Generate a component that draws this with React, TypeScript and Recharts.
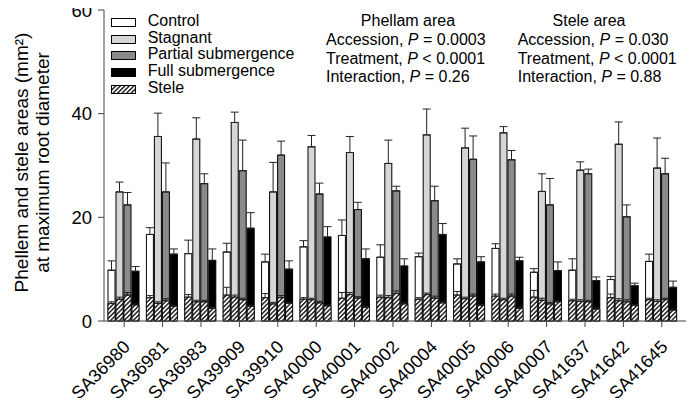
import React from "react"
import { Bar, BarChart, ErrorBar, XAxis, YAxis } from "recharts"

const accessions = [
  "SA36980", "SA36981", "SA36983", "SA39909", "SA39910", "SA40000", "SA40001", "SA40002",
  "SA40004", "SA40005", "SA40006", "SA40007", "SA41637", "SA41642", "SA41645",
]

// phellem areas (mm2) and SE
const control = [9.8, 16.7, 13.0, 13.3, 11.4, 14.3, 16.5, 12.3, 12.4, 11.0, 14.0, 9.4, 9.8, 8.0, 11.5]
const controlErr = [1.8, 1.3, 2.6, 1.7, 1.5, 1.2, 3.0, 2.4, 0.7, 1.0, 0.9, 0.7, 2.2, 0.6, 1.4]
const stagnant = [24.9, 35.6, 35.1, 38.3, 24.9, 33.6, 32.5, 30.4, 35.9, 33.4, 36.3, 25.0, 29.1, 34.1, 29.5]
const stagnantErr = [1.9, 4.5, 4.1, 2.0, 5.7, 2.2, 3.1, 4.5, 5.0, 3.8, 1.2, 3.4, 1.6, 4.3, 5.8]
const partial = [22.4, 24.9, 26.5, 29.0, 32.0, 24.5, 21.5, 25.1, 23.2, 31.2, 31.1, 22.4, 28.4, 20.1, 28.4]
const partialErr = [2.4, 5.6, 1.9, 5.9, 2.7, 2.1, 1.4, 0.9, 2.8, 4.5, 1.8, 5.1, 0.9, 2.3, 3.0]
const full = [9.6, 12.9, 11.7, 17.9, 10.0, 16.2, 12.0, 10.6, 16.7, 11.4, 11.6, 9.7, 7.8, 6.8, 6.5]
const fullErr = [0.9, 1.0, 2.2, 3.0, 1.6, 2.0, 1.9, 1.4, 2.1, 1.0, 0.7, 1.7, 0.7, 0.5, 1.2]

// stele areas (mm2) and SE
const controlStele = [3.4, 4.5, 4.6, 5.0, 4.5, 4.2, 4.4, 4.6, 4.2, 5.0, 4.8, 4.6, 3.9, 4.5, 4.1]
const controlSteleErr = [0.3, 0.4, 0.5, 1.5, 0.8, 0.3, 1.1, 0.4, 0.3, 0.7, 0.4, 1.3, 0.3, 0.7, 0.3]
const stagnantStele = [4.2, 3.4, 3.7, 4.6, 3.3, 4.1, 5.1, 4.5, 5.1, 4.3, 4.1, 4.0, 3.8, 3.9, 3.8]
const stagnantSteleErr = [0.4, 0.3, 0.3, 0.4, 0.3, 0.3, 0.4, 0.4, 0.3, 0.3, 0.3, 0.4, 0.3, 0.4, 0.3]
const partialStele = [5.0, 3.9, 3.7, 4.1, 4.5, 3.5, 4.4, 5.3, 4.4, 4.8, 4.8, 3.3, 3.7, 3.7, 4.1]
const partialSteleErr = [0.5, 0.4, 0.3, 0.3, 0.4, 0.3, 0.3, 0.5, 0.4, 0.4, 0.4, 0.3, 0.3, 0.4, 0.3]
const fullStele = [3.1, 2.8, 2.4, 2.8, 3.4, 2.9, 2.6, 3.3, 3.5, 3.0, 2.4, 3.7, 2.3, 3.0, 2.1]
const fullSteleErr = [0.2, 0.2, 0.2, 0.2, 0.2, 0.2, 0.2, 0.2, 0.2, 0.2, 0.2, 0.2, 0.2, 0.2, 0.2]

const yTicks = [0, 20, 40, 60]

const data = accessions.map((name, i) => ({
  name,
  control: control[i],
  controlErr: [0, controlErr[i]],
  stagnant: stagnant[i],
  stagnantErr: [0, stagnantErr[i]],
  partial: partial[i],
  partialErr: [0, partialErr[i]],
  full: full[i],
  fullErr: [0, fullErr[i]],
  controlStele: controlStele[i],
  controlSteleErr: [0, controlSteleErr[i]],
  stagnantStele: stagnantStele[i],
  stagnantSteleErr: [0, stagnantSteleErr[i]],
  partialStele: partialStele[i],
  partialSteleErr: [0, partialSteleErr[i]],
  fullStele: fullStele[i],
  fullSteleErr: [0, fullSteleErr[i]],
}))

const font = '"Liberation Sans", Arial, Helvetica, sans-serif'
const pad = { left: 1, right: 9 }

const series = [
  { key: "control", label: "Control", fill: "#ffffff" },
  { key: "stagnant", label: "Stagnant", fill: "#d6d6d6" },
  { key: "partial", label: "Partial submergence", fill: "#8a8a8a" },
  { key: "full", label: "Full submergence", fill: "#000000" },
]

const XTick = (props: any) => {
  const { x, y, payload } = props
  const tx = x + 7
  const ty = y + 19
  return (
    <text
      x={tx}
      y={ty}
      transform={`rotate(-45 ${tx} ${ty})`}
      textAnchor="end"
      fontSize={18}
      fontFamily={font}
      fill="#000"
    >
      {payload.value}
    </text>
  )
}

const YTick = (props: any) => {
  const { x, y, payload } = props
  return (
    <text x={x} y={y} dy="0.36em" textAnchor="end" fontSize={18.5} fontFamily={font} fill="#000">
      {payload.value}
    </text>
  )
}

const YLabel = (props: any) => {
  const { viewBox } = props
  const cy = viewBox.y + viewBox.height / 2 - 3
  return (
    <g fontFamily={font} fontSize={19} fill="#000">
      <text x={27.5} y={cy} transform={`rotate(-90 27.5 ${cy})`} textAnchor="middle">
        Phellem and stele areas (mm²)
      </text>
      <text x={48.5} y={cy} transform={`rotate(-90 48.5 ${cy})`} textAnchor="middle">
        at maximum root diameter
      </text>
    </g>
  )
}

const Swatch = ({ fill }: { fill: string }) => (
  <svg width={25} height={9} style={{ position: "absolute", left: 0, top: 5 }}>
    <rect x={0.5} y={0.5} width={24} height={8} fill={fill} stroke="#000" />
  </svg>
)

function Stats(props: { left: number; center: number; title: string; lines: [string, string][] }) {
  return (
    <>
      <div
        style={{
          position: "absolute",
          left: props.center - 80,
          width: 160,
          top: 12,
          textAlign: "center",
          fontSize: 16,
          lineHeight: "18.5px",
        }}
      >
        {props.title}
      </div>
      <div style={{ position: "absolute", left: props.left, top: 31, fontSize: 16, lineHeight: "18.5px", whiteSpace: "nowrap" }}>
        {props.lines.map(([a, b]) => (
          <div key={a}>
            {a}, <i>P</i> {b}
          </div>
        ))}
      </div>
    </>
  )
}

export default function App() {
  return (
    <div style={{ position: "relative", margin: -8, width: 694, height: 406, fontFamily: font, color: "#000" }}>
      <svg width={0} height={0} style={{ position: "absolute" }}>
        <defs>
          <pattern id="hatch" width={3.2} height={3.2} patternUnits="userSpaceOnUse" patternTransform="rotate(45)">
            <rect width={3.2} height={3.2} fill="#fff" />
            <line x1={0.8} y1={0} x2={0.8} y2={3.2} stroke="#000" strokeWidth={1.3} />
          </pattern>
        </defs>
      </svg>
      <BarChart
        width={694}
        height={406}
        data={data}
        margin={{ top: 10, right: 4, left: 8, bottom: 0 }}
        barCategoryGap={3}
        barGap={1}
      >
        <XAxis
          dataKey="name"
          height={85}
          padding={pad}
          interval={0}
          tickSize={6}
          tick={<XTick />}
          stroke="#444"
        />
        <XAxis xAxisId="top" dataKey="name" orientation="top" height={0} padding={pad} tick={false} tickLine={false} stroke="#888" />
        <XAxis xAxisId="s" dataKey="name" hide padding={pad} />
        <YAxis
          width={96}
          domain={[0, 60]}
          ticks={yTicks}
          interval={0}
          tickSize={6}
          tickMargin={6}
          stroke="#444"
          tick={<YTick />}
          label={<YLabel />}
        />
        <YAxis yAxisId="r" orientation="right" width={0} domain={[0, 60]} tick={false} tickLine={false} stroke="#888" />
        {series.map((s) => (
          <Bar key={s.key} dataKey={s.key} fill={s.fill} stroke="#000" strokeWidth={1} isAnimationActive={false}>
            <ErrorBar dataKey={`${s.key}Err`} width={4} stroke="#222" strokeWidth={1} direction="y" />
          </Bar>
        ))}
        {series.map((s) => (
          <Bar
            key={s.key + "Stele"}
            xAxisId="s"
            dataKey={`${s.key}Stele`}
            fill="url(#hatch)"
            stroke="#000"
            strokeWidth={0.8}
            isAnimationActive={false}
          >
            <ErrorBar dataKey={`${s.key}SteleErr`} width={3} stroke="#222" strokeWidth={1} direction="y" />
          </Bar>
        ))}
      </BarChart>
      <div style={{ position: "absolute", left: 111, top: 13, fontSize: 16, lineHeight: "16px" }}>
        {series.map((s, i) => (
          <div key={s.key} style={{ position: "absolute", top: i * 16.7, left: 0, paddingLeft: 36.7, whiteSpace: "nowrap" }}>
            <Swatch fill={s.fill} />
            {s.label}
          </div>
        ))}
        <div style={{ position: "absolute", top: 4 * 16.7, left: 0, paddingLeft: 36.7, whiteSpace: "nowrap" }}>
          <Swatch fill="url(#hatch)" />
          Stele
        </div>
      </div>
      <Stats
        left={326}
        center={408}
        title="Phellam area"
        lines={[
          ["Accession", "= 0.0003"],
          ["Treatment", "< 0.0001"],
          ["Interaction", "= 0.26"],
        ]}
      />
      <Stats
        left={517.7}
        center={589}
        title="Stele area"
        lines={[
          ["Accession", "= 0.030"],
          ["Treatment", "< 0.0001"],
          ["Interaction", "= 0.88"],
        ]}
      />
    </div>
  )
}
